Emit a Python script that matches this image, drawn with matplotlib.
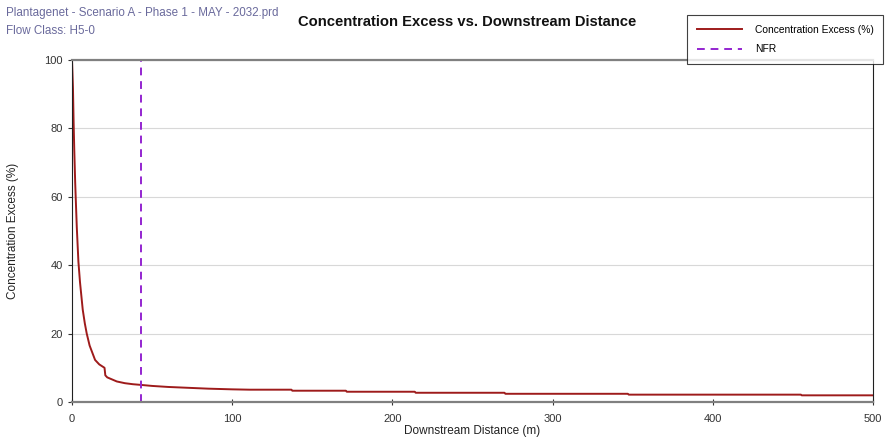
import matplotlib
matplotlib.use("Agg")
import matplotlib.pyplot as plt

plt.rcParams["font.family"] = ["Liberation Sans", "DejaVu Sans"]

distance = [0, 0.3, 0.6, 1.0, 1.4, 2.0, 2.3, 3.0, 4.0, 5.0, 6.7, 8.0, 9.2, 11.0,
            14.4, 17.0, 20.3, 20.8, 22.0, 25.0, 28.0, 33.0, 38.0, 43.0, 50.0,
            60.0, 70.0, 85.0, 100.0, 111.0, 137.0, 137.5, 171.0, 171.5, 214.0,
            214.5, 270.0, 270.5, 347.0, 347.5, 455.0, 455.5, 500.0]
excess = [100, 96, 91.8, 82, 74, 64, 60, 51, 41, 35, 27, 23, 20, 16.5,
          12.3, 11.0, 10.0, 7.8, 7.2, 6.6, 6.0, 5.5, 5.2, 5.0, 4.7,
          4.4, 4.2, 3.9, 3.7, 3.6, 3.6, 3.3, 3.3, 3.0, 3.0,
          2.7, 2.7, 2.4, 2.4, 2.15, 2.15, 1.95, 1.95]
nfr_x = 43
x_ticks = [0, 100, 200, 300, 400, 500]
y_ticks = [0, 20, 40, 60, 80, 100]

fig = plt.figure(figsize=(8.85, 4.43), dpi=100)
ax = fig.add_axes([72 / 885, 1 - 402 / 443, 801 / 885, 342 / 443])

ax.plot(distance, excess, color="#9e1b1b", lw=1.4, label="Concentration Excess (%)")
ax.axvline(nfr_x, color="#9425d0", lw=1.4, ls=(0, (4, 3)), label="NFR")

ax.set_xlim(0, 500)
ax.set_ylim(0, 100)
ax.set_xticks(x_ticks)
ax.set_yticks(y_ticks)
ax.grid(axis="y", color="#d8d8d8", lw=0.8)
ax.set_axisbelow(True)

for side in ["top", "bottom"]:
    ax.spines[side].set_color("#808080")
    ax.spines[side].set_linewidth(1.6)
ax.spines["left"].set_color("#202020")
ax.spines["right"].set_color("#202020")
ax.tick_params(axis="both", labelsize=8, colors="#333333", length=3)
ax.tick_params(axis="x", direction="inout", length=5, pad=6)

ax.set_xlabel("Downstream Distance (m)", fontsize=8.5, color="#222222", labelpad=1)
ax.set_ylabel("Concentration Excess (%)", fontsize=8.5, color="#222222", labelpad=18)

fig.text(467 / 885, 1 - 22 / 443, "Concentration Excess vs. Downstream Distance",
         ha="center", va="center", fontsize=10.6, fontweight="bold", color="#111111")
fig.text(6 / 885, 1 - 13 / 443, "Plantagenet - Scenario A - Phase 1 - MAY - 2032.prd",
         ha="left", va="center", fontsize=8.4, color="#6a6a9c")
fig.text(6 / 885, 1 - 31 / 443, "Flow Class: H5-0",
         ha="left", va="center", fontsize=8.4, color="#6a6a9c")

leg = fig.legend(loc="upper left", bbox_to_anchor=(687 / 885, 1 - 15 / 443),
                 fontsize=7.4, frameon=True, fancybox=False, handlelength=4.4,
                 handletextpad=1.25, borderpad=0.95, labelspacing=0.92,
                 borderaxespad=0)
leg.get_frame().set_edgecolor("#111111")
leg.get_frame().set_linewidth(0.8)

fig.savefig("out.png", dpi=100)
